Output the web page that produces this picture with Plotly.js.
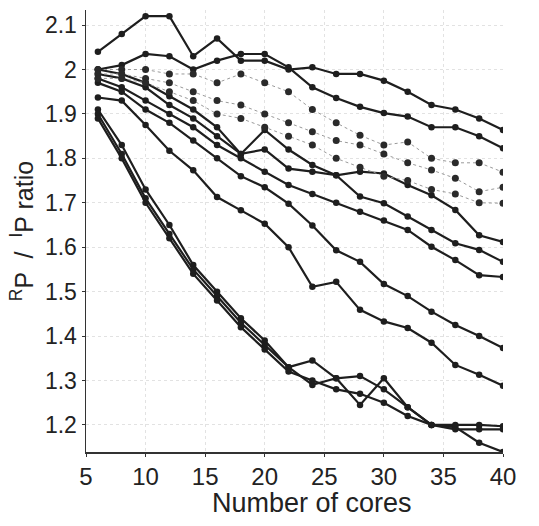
<!DOCTYPE html>
<html>
<head>
<meta charset="utf-8">
<script src="https://cdn.plot.ly/plotly-3.0.1.min.js"></script>
<style>html,body{margin:0;padding:0;background:#fff;}#chart{width:539px;height:526px;}</style>
</head>
<body>
<div id="chart"></div>
<script>
// Number of cores
const cores = [6,8,10,12,14,16,18,20,22,24,26,28,30,32,34,36,38,40];

// Ratio series (top to bottom by end value)
const s1 = [2.04,2.08,2.12,2.12,2.03,2.07,2.02,2.02,2.00,2.005,1.99,1.99,1.975,1.95,1.92,1.91,1.89,1.864];
const s2 = [2.00,2.01,2.035,2.03,2.00,2.02,2.035,2.035,2.005,1.96,1.936,1.916,1.902,1.894,1.87,1.87,1.85,1.823];
const s3 = [2.00,2.00,2.00,1.99,1.99,1.97,1.99,1.97,1.95,1.91,1.88,1.852,1.83,1.837,1.80,1.79,1.79,1.769];
const s4 = [1.99,1.99,1.98,1.97,1.95,1.93,1.92,1.90,1.88,1.86,1.84,1.83,1.81,1.79,1.774,1.755,1.725,1.735];
const s5 = [1.98,1.98,1.97,1.95,1.93,1.90,1.89,1.87,1.85,1.83,1.80,1.78,1.76,1.75,1.73,1.72,1.70,1.699];
const s6 = [2.00,1.99,1.97,1.94,1.91,1.87,1.81,1.864,1.82,1.785,1.762,1.77,1.766,1.74,1.717,1.684,1.627,1.612];
const s7 = [1.99,1.98,1.96,1.92,1.89,1.85,1.81,1.82,1.777,1.77,1.762,1.714,1.699,1.669,1.639,1.609,1.594,1.567];
const s8 = [1.98,1.96,1.93,1.90,1.87,1.83,1.80,1.77,1.74,1.72,1.70,1.68,1.66,1.639,1.601,1.571,1.537,1.533];
const m1 = [1.97,1.95,1.91,1.88,1.84,1.80,1.76,1.735,1.698,1.649,1.593,1.567,1.517,1.49,1.455,1.425,1.40,1.373];
const m2 = [1.937,1.93,1.875,1.817,1.773,1.713,1.683,1.653,1.60,1.511,1.522,1.459,1.433,1.418,1.385,1.335,1.313,1.288];
const l1 = [1.91,1.83,1.73,1.65,1.56,1.50,1.44,1.39,1.33,1.345,1.305,1.31,1.28,1.24,1.20,1.20,1.20,1.197];
const l2 = [1.90,1.81,1.71,1.63,1.55,1.49,1.43,1.38,1.33,1.29,1.305,1.245,1.305,1.24,1.20,1.195,1.16,1.139];
const l3 = [1.89,1.80,1.70,1.62,1.54,1.48,1.42,1.37,1.32,1.30,1.28,1.27,1.25,1.22,1.20,1.19,1.19,1.19];

const xTicks = [5,10,15,20,25,30,35,40];
const yTicks = [1.2,1.3,1.4,1.5,1.6,1.7,1.8,1.9,2.0,2.1];
const yTickText = ['1.2','1.3','1.4','1.5','1.6','1.7','1.8','1.9','2','2.1'];

const solid = [s1,s2,s6,s7,s8,m1,m2,l1,l2,l3];
const faint = [s3,s4,s5];

const traces = [];
solid.forEach(function(ys){
  traces.push({x: cores, y: ys, type: 'scatter', mode: 'lines+markers',
    line: {color: '#1e1e1e', width: 2.2},
    marker: {symbol: 'circle', size: 6.5, color: '#1e1e1e'},
    showlegend: false, hoverinfo: 'skip'});
});
faint.forEach(function(ys){
  traces.push({x: cores, y: ys, type: 'scatter', mode: 'lines+markers',
    line: {color: '#9a9a9a', width: 1, dash: 'dot'},
    marker: {symbol: 'circle', size: 7, color: '#2a2a2a'},
    showlegend: false, hoverinfo: 'skip'});
});

const fontFam = 'Liberation Sans, Arial, sans-serif';
const layout = {
  width: 539, height: 526,
  margin: {l: 86, r: 36, t: 10, b: 74, pad: 0},
  paper_bgcolor: '#fff', plot_bgcolor: '#fff',
  font: {family: fontFam, color: '#222'},
  xaxis: {
    range: [5, 40], tickvals: xTicks, ticktext: xTicks.map(String),
    showline: true, linecolor: '#333', linewidth: 1.5,
    showgrid: true, gridcolor: '#e2e2e2', griddash: 'dot', gridwidth: 1,
    zeroline: false, ticks: 'outside', ticklen: 3, tickcolor: '#333',
    tickfont: {size: 24, color: '#222', family: fontFam}
  },
  yaxis: {
    range: [1.139, 2.134], tickvals: yTicks, ticktext: yTickText,
    showline: true, linecolor: '#333', linewidth: 1.5,
    showgrid: true, gridcolor: '#e2e2e2', griddash: 'dot', gridwidth: 1,
    zeroline: false, ticks: 'outside', ticklen: 3, tickcolor: '#333',
    tickfont: {size: 23, color: '#222', family: fontFam},
    title: {text: '<sup>R</sup>P  /  <sup>I</sup>P ratio', font: {size: 25, color: '#222', family: fontFam}, standoff: 4}
  },
  annotations: [{
    text: 'Number of cores', xref: 'paper', yref: 'paper',
    x: (312 - 86) / (503 - 86), y: -0.078, xanchor: 'center', yanchor: 'top',
    showarrow: false, font: {size: 27, color: '#222', family: fontFam}
  }]
};

Plotly.newPlot('chart', traces, layout, {staticPlot: true, displayModeBar: false});
</script>
</body>
</html>
